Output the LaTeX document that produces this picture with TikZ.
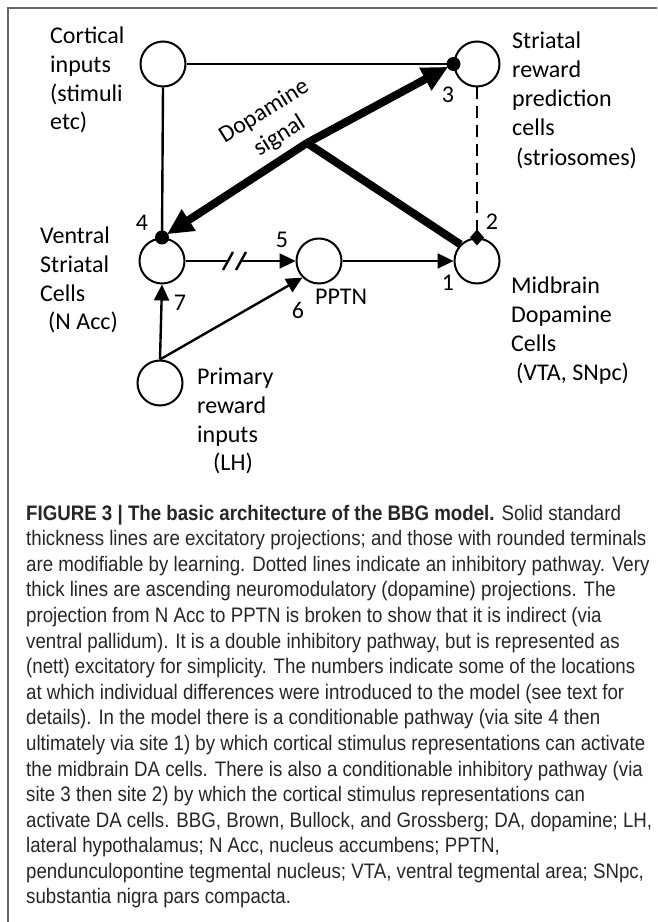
\documentclass[tikz,border=0pt]{standalone}
\usepackage{fontspec}
\setmainfont{Carlito}
\newfontfamily\capfont[FakeStretch=0.89]{Liberation Sans}
\usetikzlibrary{arrows.meta,calc}

\tikzset{
  cell/.style={draw,circle,minimum size=45pt,inner sep=0pt,line width=2pt},
  lab/.style={anchor=base west,align=left,inner sep=0pt,font=\fontsize{24}{28.8}\selectfont},
  num/.style={inner sep=0pt,font=\fontsize{24}{28.8}\selectfont},
  proj/.style={line width=2.4pt},
  excit/.style={proj,-{Triangle[length=16pt,width=15pt]}},
  learn/.style={proj,-{Circle[length=14pt]},shorten >=-7pt},
  inhib/.style={proj,dash pattern=on 12pt off 7pt,-{Diamond[length=16pt,width=14pt]},shorten >=-8pt},
  dopa/.style={line width=8pt},
  bigtip/.style={-{Triangle[length=26pt,width=24pt]}}
}

\begin{document}
\begin{tikzpicture}[x=1pt,y=1pt]
    \useasboundingbox (0,0) rectangle (657,922);
    %frame
    \draw[line width=1.5pt,black!60] (8,0) -- (8,914) -- (657,914);

    %cells
    \foreach \name/\x/\y in {cort/163/858,stri/477/858,vent/162/661,pptn/319/661,mid/477/661,prim/160/539}
    {
        \node[cell] (\name) at (\x,\y) {};
    }

    %labels (base = last line)
    \node[lab] (cortlab) at (50,792) {Cortical\\inputs\\(stimuli\\etc)};
    \node[lab] (strilab) at (512,756) {Striatal\\reward\\prediction\\cells\\[2pt]\hspace{4pt}(striosomes)};
    \node[lab] (ventlab) at (40,592) {Ventral\\Striatal\\Cells\\\hspace{8pt}(N Acc)};
    \node[lab] (midlab) at (511,541) {Midbrain\\Dopamine\\Cells\\[1pt]\hspace{5pt}(VTA, SNpc)};
    \node[lab] (primlab) at (197,451) {Primary\\reward\\inputs\\\hspace{16pt}(LH)};
    \node[lab] (pptnlab) at (315,617) {PPTN};
    \node[num,rotate=32,align=center] (dalab) at (272,798) {Dopamine\\signal};

    %sites
    \foreach \s/\x/\y in {1/448/639,2/492/700,3/448/827,4/142/699,5/282/682,6/298/612,7/180/619}
    {
        \node[num] (site\s) at (\x,\y) {\s};
    }

    %projections
    \draw[learn] (cort.east) -- (stri.west);
    \draw[learn] (cort.south) -- (vent.north);
    \coordinate (cut1) at (228,661);
    \coordinate (cut2) at (241,661);
    \draw[proj] (vent.east) -- (cut1);
    \draw[excit] (cut2) -- (pptn.west);
    \foreach \c in {cut1,cut2}
    {
        \draw[proj] ($(\c)+(-5,-9)$) -- ($(\c)+(5,9)$);
    }
    \draw[excit] (pptn.east) -- (mid.west);
    \draw[excit] (prim.north) -- (vent.south);
    \draw[excit] (prim.north) -- (pptn.south west);
    \draw[inhib] (stri.south) -- (mid.north);

    %dopamine
    \coordinate (J) at (307,779);
    \draw[dopa,line join=miter,bigtip,shorten >=6pt] (J) -- (stri.west);
    \draw[dopa,line join=miter,bigtip,shorten >=6pt] (J) -- (vent.north);
    \draw[dopa] (J) -- (mid.north west);

    %caption (base = last line)
    \node[anchor=base west,align=left,inner sep=0pt,text=black!85,font=\capfont\fontsize{21}{25.6}\selectfont] (capt) at (26,18)
    {\textbf{FIGURE 3 | The basic architecture of the BBG model.} Solid standard\\
    thickness lines are excitatory projections; and those with rounded terminals\\
    are modifiable by learning. Dotted lines indicate an inhibitory pathway. Very\\
    thick lines are ascending neuromodulatory (dopamine) projections. The\\
    projection from N Acc to PPTN is broken to show that it is indirect (via\\
    ventral pallidum). It is a double inhibitory pathway, but is represented as\\
    (nett) excitatory for simplicity. The numbers indicate some of the locations\\
    at which individual differences were introduced to the model (see text for\\
    details). In the model there is a conditionable pathway (via site 4 then\\
    ultimately via site 1) by which cortical stimulus representations can activate\\
    the midbrain DA cells. There is also a conditionable inhibitory pathway (via\\
    site 3 then site 2) by which the cortical stimulus representations can\\
    activate DA cells. BBG, Brown, Bullock, and Grossberg; DA, dopamine; LH,\\
    lateral hypothalamus; N Acc, nucleus accumbens; PPTN,\\
    pendunculopontine tegmental nucleus; VTA, ventral tegmental area; SNpc,\\
    substantia nigra pars compacta.};
\end{tikzpicture}
\end{document}
